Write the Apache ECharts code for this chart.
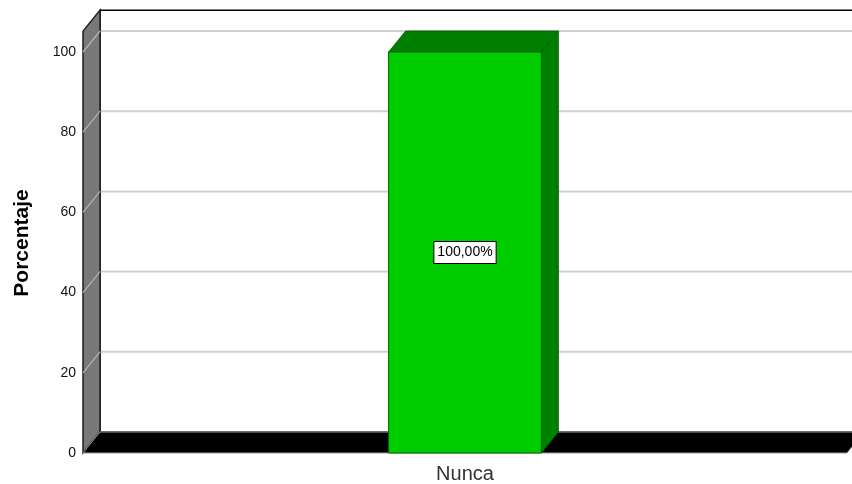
<!DOCTYPE html>
<html>
<head>
<meta charset="utf-8">
<script src="https://cdn.jsdelivr.net/npm/echarts@6/dist/echarts.min.js"></script>
<style>
  html, body { margin: 0; padding: 0; background: #fff; }
  #chart { width: 852px; height: 484px; }
</style>
</head>
<body>
<div id="chart"></div>
<script>
// Frecuencia de respuesta (porcentaje)
const categories = ['Nunca'];
const percentages = [100];
const yTicks = [0, 20, 40, 60, 80, 100];

// Perspective offset of the back plane, in pixels
const DX = 17, DY = -21;
// Walls rise a little above the top tick
const WALL_TOP = 105.2;

const fmt = v => v.toFixed(2).replace('.', ',') + '%';

const chart = echarts.init(document.getElementById('chart'), null, { renderer: 'canvas' });

function renderFrame(params, api) {
  const cs = params.coordSys;
  const x0 = cs.x, x1 = cs.x + cs.width;
  const y0 = api.coord([0, 0])[1];
  const yTop = api.coord([0, WALL_TOP])[1];
  const children = [];
  // back wall
  children.push({
    type: 'rect',
    shape: { x: x0 + DX, y: yTop + DY, width: x1 - x0 + 40, height: y0 - yTop },
    style: { fill: '#ffffff', stroke: '#000', lineWidth: 1.5 }
  });
  // horizontal grid lines on the back wall and their traces on the side wall
  yTicks.forEach(t => {
    if (t === 0) return;
    const y = api.coord([0, t])[1];
    children.push({
      type: 'line',
      shape: { x1: x0 + DX, y1: y + DY, x2: x1 + 40, y2: y + DY },
      style: { stroke: '#cfcfcf', lineWidth: 2 }
    });
  });
  // side wall
  children.push({
    type: 'polygon',
    shape: { points: [[x0, y0], [x0, yTop], [x0 + DX, yTop + DY], [x0 + DX, y0 + DY]] },
    style: { fill: '#787878', stroke: '#1e1e1e', lineWidth: 1.5 }
  });
  yTicks.forEach(t => {
    if (t === 0) return;
    const y = api.coord([0, t])[1];
    children.push({
      type: 'line',
      shape: { x1: x0, y1: y, x2: x0 + DX, y2: y + DY },
      style: { stroke: '#b4b4b4', lineWidth: 1.2 }
    });
  });
  // floor
  children.push({
    type: 'polygon',
    shape: { points: [[x0, y0], [x1, y0], [x1 + DX, y0 + DY], [x0 + DX, y0 + DY]] },
    style: { fill: '#000000', stroke: '#9a9a9a', lineWidth: 1 }
  });
  return { type: 'group', children };
}

function renderBar(params, api) {
  const idx = api.value(0);
  const val = api.value(1);
  const [cx, yv] = api.coord([idx, val]);
  const yb = api.coord([idx, 0])[1];
  const yMid = api.coord([idx, val / 2])[1];
  const w = api.size([1, 0])[0] * 0.2;
  const l = cx - w / 2, r = cx + w / 2;
  return {
    type: 'group',
    children: [
      { type: 'polygon', shape: { points: [[r, yv], [r + DX, yv + DY], [r + DX, yb + DY], [r, yb]] },
        style: { fill: '#008000', stroke: '#005a00', lineWidth: 0.8 } },
      { type: 'polygon', shape: { points: [[l, yv], [r, yv], [r + DX, yv + DY], [l + DX, yv + DY]] },
        style: { fill: '#007e00', stroke: '#005a00', lineWidth: 0.8 } },
      { type: 'rect', shape: { x: l, y: yv, width: w, height: yb - yv },
        style: { fill: '#00cc00', stroke: '#006400', lineWidth: 1 } },
      { type: 'text', x: cx, y: yMid,
        style: { text: fmt(val), align: 'center', verticalAlign: 'middle',
          font: '14px "Liberation Sans", Arial, sans-serif', fill: '#000',
          backgroundColor: '#fff', borderColor: '#000', borderWidth: 1,
          padding: [4, 3, 3, 3] } }
    ]
  };
}

chart.setOption({
  animation: false,
  backgroundColor: '#ffffff',
  grid: { left: 83, right: 5, top: 52, bottom: 31, containLabel: false, outerBoundsMode: 'none' },
  xAxis: {
    type: 'category',
    data: categories,
    axisLine: { show: false },
    axisTick: { show: false },
    splitLine: { show: false },
    axisLabel: { margin: 11, fontSize: 20, color: '#333', fontFamily: '"Liberation Sans", Arial, sans-serif' }
  },
  yAxis: {
    type: 'value',
    min: 0,
    max: 100,
    interval: 20,
    axisLine: { show: false },
    axisTick: { show: false },
    splitLine: { show: false },
    axisLabel: { margin: 7, fontSize: 14, color: '#111', fontFamily: '"Liberation Sans", Arial, sans-serif' },
    name: 'Porcentaje',
    nameLocation: 'middle',
    nameRotate: 90,
    nameGap: 50,
    nameTextStyle: { fontSize: 21, fontWeight: 'bold', color: '#000', padding: [0, 0, 0, 19],
      fontFamily: '"Liberation Sans", Arial, sans-serif' }
  },
  series: [
    { type: 'custom', renderItem: renderFrame, data: [[0]], z: 1, silent: true, clip: false },
    { type: 'custom', renderItem: renderBar,
      data: categories.map((c, i) => [i, percentages[i]]), z: 5, clip: false }
  ]
});
</script>
</body>
</html>
